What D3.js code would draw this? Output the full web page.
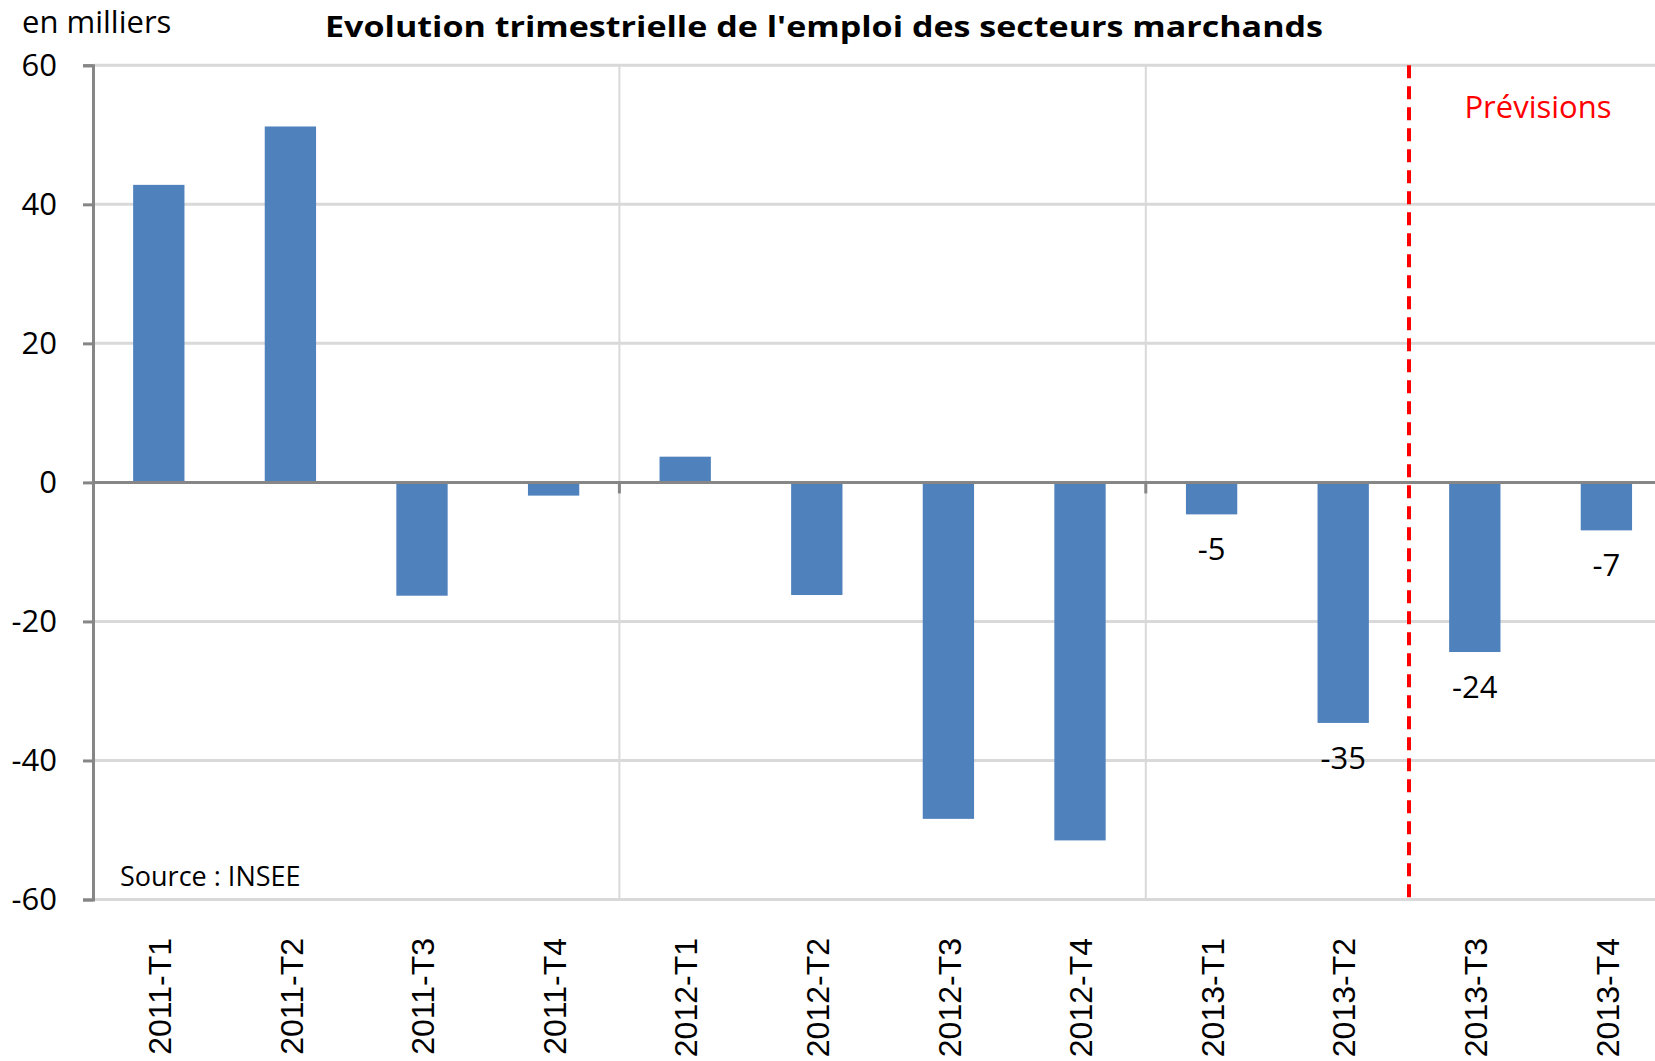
<!DOCTYPE html>
<html>
<head>
<meta charset="utf-8">
<script src="https://cdn.jsdelivr.net/npm/d3@7"></script>
<style>
  body { margin: 0; background: #fff; }
  svg { display: block; }
</style>
</head>
<body>
<script>
// Chart size
var w = 1655;
var h = 1061;

// Data
var quarters = ["2011-T1", "2011-T2", "2011-T3", "2011-T4",
                "2012-T1", "2012-T2", "2012-T3", "2012-T4",
                "2013-T1", "2013-T2", "2013-T3", "2013-T4"];
var emploi = [42.8, 51.2, -16.3, -1.9, 3.7, -16.2, -48.4, -51.5, -4.6, -34.6, -24.4, -6.9];
var labelled = ["2013-T1", "2013-T2", "2013-T3", "2013-T4"]; // bars with a value label
var yTicks = [-60, -40, -20, 0, 20, 40, 60];
var groupStarts = ["2012-T1", "2013-T1"]; // vertical gridlines
var forecastStart = "2013-T3";

var data = quarters.map(function(q, i) { return { q: q, v: emploi[i] }; });

var textFont = "'Open Sans', sans-serif";
var axisFont = "'Liberation Sans', Arial, sans-serif";

// plain hyphen minus, like the original
function fmt(v) { return String(Math.round(v)); }

var svg = d3.select("body")
  .append("svg")
  .attr("width", w)
  .attr("height", h);

// Plot area
var plotLeft = 93, plotTop = 65.3, plotBottom = 899.5;
var step = 131.6;

var x = d3.scaleBand()
  .domain(quarters)
  .range([plotLeft, plotLeft + step * quarters.length])
  .paddingInner(0.61)
  .paddingOuter(0.305);
var xs = d3.scaleBand().domain(quarters).range(x.range()); // no padding, for boundaries

var y = d3.scaleLinear().domain([-60, 60]).range([plotBottom, plotTop]);

// Horizontal gridlines
svg.append("g")
  .selectAll("line")
  .data(yTicks.filter(function(d) { return d !== 0; }))
  .enter()
  .append("line")
  .attr("x1", plotLeft)
  .attr("x2", w)
  .attr("y1", function(d) { return y(d); })
  .attr("y2", function(d) { return y(d); })
  .attr("stroke", "#d9d9d9")
  .attr("stroke-width", 3);

// Vertical gridlines between years
svg.append("g")
  .selectAll("line")
  .data(groupStarts)
  .enter()
  .append("line")
  .attr("x1", function(d) { return xs(d); })
  .attr("x2", function(d) { return xs(d); })
  .attr("y1", y(60))
  .attr("y2", y(-60))
  .attr("stroke", "#d9d9d9")
  .attr("stroke-width", 2);

// Bars
svg.append("g")
  .selectAll("rect")
  .data(data)
  .enter()
  .append("rect")
  .attr("x", function(d) { return x(d.q); })
  .attr("y", function(d) { return y(Math.max(0, d.v)); })
  .attr("width", x.bandwidth())
  .attr("height", function(d) { return Math.abs(y(d.v) - y(0)); })
  .attr("fill", "#4f81bd");

// Zero line with small ticks at year boundaries
svg.append("line")
  .attr("x1", plotLeft)
  .attr("x2", w)
  .attr("y1", y(0))
  .attr("y2", y(0))
  .attr("stroke", "#868686")
  .attr("stroke-width", 3);

svg.append("g")
  .selectAll("line")
  .data(groupStarts)
  .enter()
  .append("line")
  .attr("x1", function(d) { return xs(d); })
  .attr("x2", function(d) { return xs(d); })
  .attr("y1", y(0))
  .attr("y2", y(0) + 11)
  .attr("stroke", "#868686")
  .attr("stroke-width", 3);

// Y axis
var yAxis = d3.axisLeft(y)
  .tickValues(yTicks)
  .tickFormat(fmt)
  .tickSize(10)
  .tickPadding(26);

var gy = svg.append("g")
  .attr("transform", "translate(" + plotLeft + ",0)")
  .call(yAxis);
gy.select(".domain").attr("stroke", "#868686").attr("stroke-width", 3);
gy.selectAll(".tick line").attr("stroke", "#868686").attr("stroke-width", 3);
gy.selectAll(".tick text")
  .attr("font-family", textFont)
  .attr("font-size", "31px")
  .attr("fill", "#000");

// Category labels, rotated
svg.append("g")
  .selectAll("text")
  .data(quarters)
  .enter()
  .append("text")
  .attr("transform", function(d) {
    return "translate(" + (xs(d) + xs.bandwidth() / 2) + ",938) rotate(-90)";
  })
  .attr("dy", "0.38em")
  .attr("text-anchor", "end")
  .attr("font-family", axisFont)
  .attr("font-size", "32px")
  .attr("fill", "#000")
  .text(function(d) { return d; });

// Value labels below the last bars
svg.append("g")
  .selectAll("text")
  .data(data.filter(function(d) { return labelled.indexOf(d.q) >= 0; }))
  .enter()
  .append("text")
  .attr("x", function(d) { return x(d.q) + x.bandwidth() / 2; })
  .attr("y", function(d) { return y(d.v) + 46; })
  .attr("text-anchor", "middle")
  .attr("font-family", textFont)
  .attr("font-size", "31px")
  .attr("fill", "#000")
  .text(function(d) { return fmt(d.v); });

// Forecast separator
svg.append("line")
  .attr("x1", xs(forecastStart))
  .attr("x2", xs(forecastStart))
  .attr("y1", y(60))
  .attr("y2", y(-60))
  .attr("stroke", "#ff0000")
  .attr("stroke-width", 4)
  .attr("stroke-dasharray", "13,8");

svg.append("text")
  .attr("x", 1538)
  .attr("y", 118)
  .attr("text-anchor", "middle")
  .attr("font-family", textFont)
  .attr("font-size", "31px")
  .attr("fill", "#ff0000")
  .text("Prévisions");

// Title and notes
svg.append("text")
  .attr("x", 325)
  .attr("y", 37)
  .attr("font-family", textFont)
  .attr("font-weight", "bold")
  .attr("font-size", "29px")
  .attr("textLength", 998)
  .attr("lengthAdjust", "spacingAndGlyphs")
  .attr("fill", "#000")
  .text("Evolution trimestrielle de l'emploi des secteurs marchands");

svg.append("text")
  .attr("x", 22)
  .attr("y", 33)
  .attr("font-family", textFont)
  .attr("font-size", "31px")
  .attr("fill", "#000")
  .text("en milliers");

svg.append("text")
  .attr("x", 120)
  .attr("y", 886)
  .attr("font-family", textFont)
  .attr("font-size", "27px")
  .attr("fill", "#000")
  .text("Source : INSEE");
</script>
</body>
</html>
